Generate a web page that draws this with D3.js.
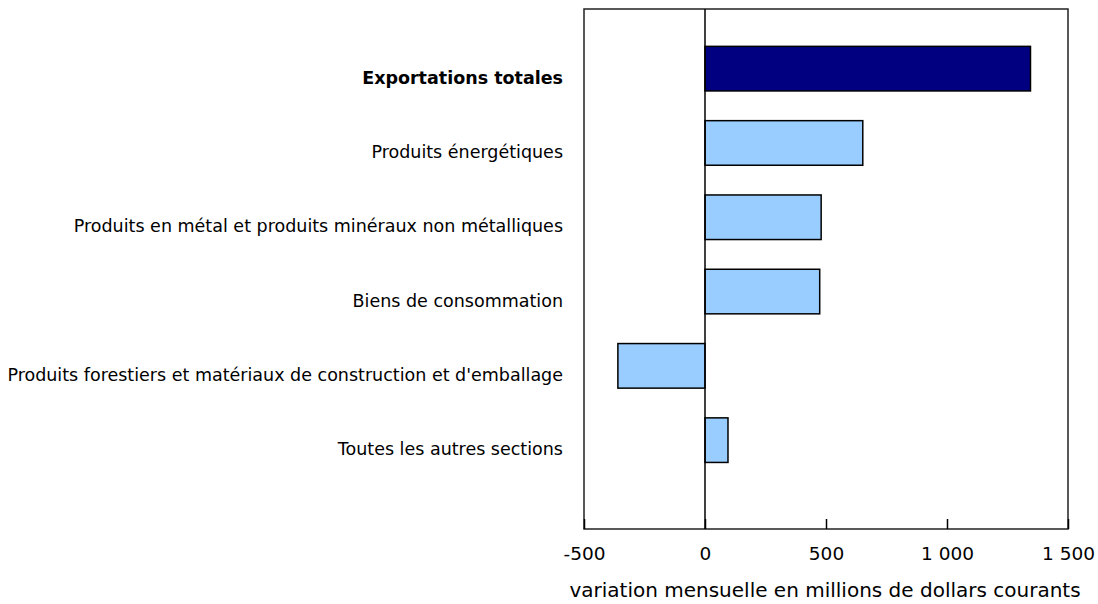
<!DOCTYPE html>
<html>
<head>
<meta charset="utf-8">
<script src="https://cdn.jsdelivr.net/npm/d3@7"></script>
<style>
  body { margin: 0; background: #fff; }
  text { font-family: Verdana, "DejaVu Sans", sans-serif; fill: #000; }
</style>
</head>
<body>
<script>
  // catégories, de haut en bas
  const categories = [
    'Exportations totales',
    'Produits énergétiques',
    'Produits en métal et produits minéraux non métalliques',
    'Biens de consommation',
    "Produits forestiers et matériaux de construction et d'emballage",
    'Toutes les autres sections'
  ];
  const values = [1345, 652, 480, 474, -360, 95];
  const tickValues = [-500, 0, 500, 1000, 1500];
  const xTitle = 'variation mensuelle en millions de dollars courants';

  const width = 1098;
  const height = 604;
  const frame = { left: 584, right: 1068, top: 9, bottom: 529 };

  const data = categories.map((c, i) => ({ cat: c, value: values[i], total: i === 0 }));

  const svg = d3.select('body')
          .append('svg')
          .attr('width', width)
          .attr('height', height);

  const x = d3.scaleLinear()
          .domain([-500, 1500])
          .range([frame.left, frame.right]);

  const y = d3.scaleBand()
          .domain(categories)
          .range([31.5, 477.3])
          .paddingInner(0.4)
          .paddingOuter(0.2);

  const fmt = d3.formatLocale({ decimal: ',', thousands: ' ', grouping: [3], currency: ['', ' $'], minus: '-' }).format(',d');

  // cadre
  svg.append('rect')
          .attr('x', frame.left)
          .attr('y', frame.top)
          .attr('width', frame.right - frame.left)
          .attr('height', frame.bottom - frame.top)
          .attr('fill', 'none')
          .attr('stroke', '#222')
          .attr('stroke-width', 1.5);

  // barres
  svg.append('g')
          .selectAll('rect')
          .data(data)
          .enter()
          .append('rect')
          .attr('x', d => x(Math.min(0, d.value)))
          .attr('y', d => y(d.cat))
          .attr('width', d => Math.abs(x(d.value) - x(0)))
          .attr('height', y.bandwidth())
          .attr('fill', d => d.total ? '#000080' : '#99ccff')
          .attr('stroke', '#000')
          .attr('stroke-width', 1.5);

  // ligne du zéro
  svg.append('line')
          .attr('x1', x(0)).attr('x2', x(0))
          .attr('y1', frame.top).attr('y2', frame.bottom)
          .attr('stroke', '#000')
          .attr('stroke-width', 1.5);

  // axe des x
  const xAxis = d3.axisBottom(x)
          .tickValues(tickValues)
          .tickSizeInner(-10)
          .tickSizeOuter(0)
          .tickPadding(18)
          .tickFormat(fmt);

  const gx = svg.append('g')
          .attr('transform', `translate(0,${frame.bottom})`)
          .call(xAxis);
  gx.select('.domain').remove();
  gx.selectAll('.tick line').attr('stroke', '#000').attr('stroke-width', 1.5);
  gx.selectAll('.tick text')
          .attr('font-size', 18.5)
          .attr('font-family', 'Verdana, "DejaVu Sans", sans-serif');

  svg.append('text')
          .attr('x', (570 + 1080) / 2)
          .attr('y', 597)
          .attr('text-anchor', 'middle')
          .attr('font-size', 20)
          .text(xTitle);

  // étiquettes des catégories
  svg.append('g')
          .selectAll('text')
          .data(data)
          .enter()
          .append('text')
          .attr('x', 563)
          .attr('y', d => y(d.cat) + y.bandwidth() / 2 + 15)
          .attr('text-anchor', 'end')
          .attr('font-size', 17.5)
          .attr('font-weight', d => d.total ? 'bold' : 'normal')
          .text(d => d.cat);
</script>
</body>
</html>
